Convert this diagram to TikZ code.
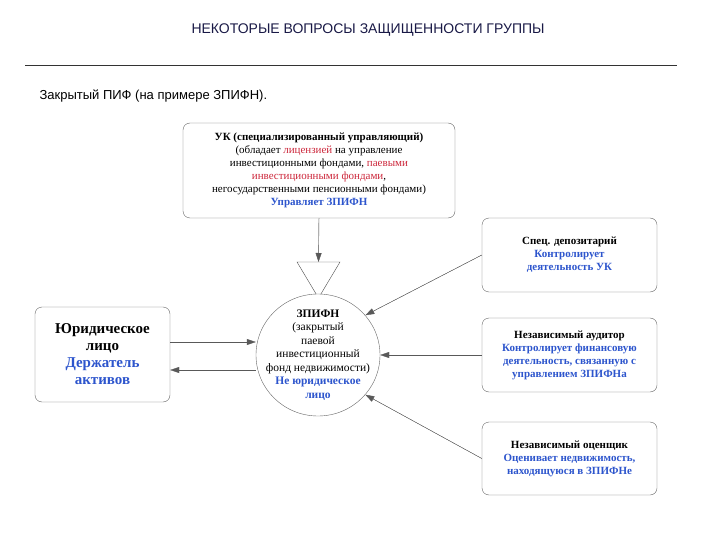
\documentclass[tikz,border=0pt]{standalone}
\usepackage{fontspec}
\setmainfont{Liberation Serif}
\newfontfamily\arial{Liberation Sans}
\usetikzlibrary{arrows.meta,shapes.geometric}
\definecolor{bl}{RGB}{45,85,205}
\definecolor{rd}{RGB}{205,40,60}
\definecolor{navy}{RGB}{25,25,70}
\begin{document}
\begin{tikzpicture}[x=1pt,y=-1pt,
  box/.style={draw=black!60,rounded corners=7pt,align=center,inner sep=2pt,fill=white},
  arr/.style={draw=black!65,-{Triangle[length=9pt,width=6pt]},fill=black}]
\useasboundingbox (0,0) rectangle (720,540);
\node[font=\arial\fontsize{14}{16}\selectfont,text=navy] (title) at (368,30) {НЕКОТОРЫЕ ВОПРОСЫ ЗАЩИЩЕННОСТИ ГРУППЫ};
\coordinate (l1) at (25,65); \coordinate (l2) at (677,65);
\draw[black!80] (l1) -- (l2);
\node[font=\arial\fontsize{13}{15}\selectfont,anchor=west] (sub) at (36,96) {Закрытый ПИФ (на примере ЗПИФН).};
\node[box,minimum width=272pt,minimum height=95pt,font=\fontsize{11}{13}\selectfont] (uk) at (319,170.5)
 {\textbf{УК (специализированный управляющий)}\\(обладает \textcolor{rd}{лицензией} на управление\\инвестиционными фондами, \textcolor{rd}{паевыми}\\\textcolor{rd}{инвестиционными фондами},\\негосударственными пенсионными фондами)\\\textcolor{bl}{\textbf{Управляет ЗПИФН}}};
\coordinate (t1) at (297,262); \coordinate (t2) at (340,262); \coordinate (t3) at (318.5,298);
\draw[black!70] (t1) -- (t2) -- (t3) -- cycle;
\draw[arr] (uk.south) -- (318.5,262);
\node[draw=black!60,ellipse,minimum width=124pt,minimum height=122pt,inner sep=0pt,fill=white] (z) at (318,355) {};
\node[align=center,font=\fontsize{11.5}{13.5}\selectfont,inner sep=0pt] (zt) at (z.center)
 {\textbf{ЗПИФН}\\(закрытый\\паевой\\инвестиционный\\фонд недвижимости)\\\textcolor{bl}{\textbf{Не юридическое}}\\\textcolor{bl}{\textbf{лицо}}};
\node[box,minimum width=135pt,minimum height=95pt,font=\bfseries\fontsize{15}{17}\selectfont] (yl) at (102.5,354.5)
 {Юридическое\\лицо\\\textcolor{bl}{Держатель}\\\textcolor{bl}{активов}};
\node[box,minimum width=175pt,minimum height=74pt,font=\bfseries\fontsize{11}{13}\selectfont] (d) at (569.5,255)
 {Спец. депозитарий\\\textcolor{bl}{Контролирует}\\\textcolor{bl}{деятельность УК}};
\node[box,minimum width=175pt,minimum height=74pt,font=\bfseries\fontsize{11}{13}\selectfont] (a) at (569.5,355)
 {Независимый аудитор\\\textcolor{bl}{Контролирует финансовую}\\\textcolor{bl}{деятельность, связанную с}\\\textcolor{bl}{управлением ЗПИФНа}};
\node[box,minimum width=175pt,minimum height=73pt,font=\bfseries\fontsize{11}{13}\selectfont] (o) at (569.5,458.5)
 {Независимый оценщик\\\textcolor{bl}{Оценивает недвижимость,}\\\textcolor{bl}{находящуюся в ЗПИФНе}};
\draw[arr] (yl.east |- 0,342) -- (z.west |- 0,342);
\draw[arr] (z.west |- 0,370) -- (yl.east |- 0,370);
\draw[arr] (d.west) -- (z.40);
\draw[arr] (a.west) -- (z.east);
\draw[arr] (o.west) -- (z.-40);
\end{tikzpicture}
\end{document}
